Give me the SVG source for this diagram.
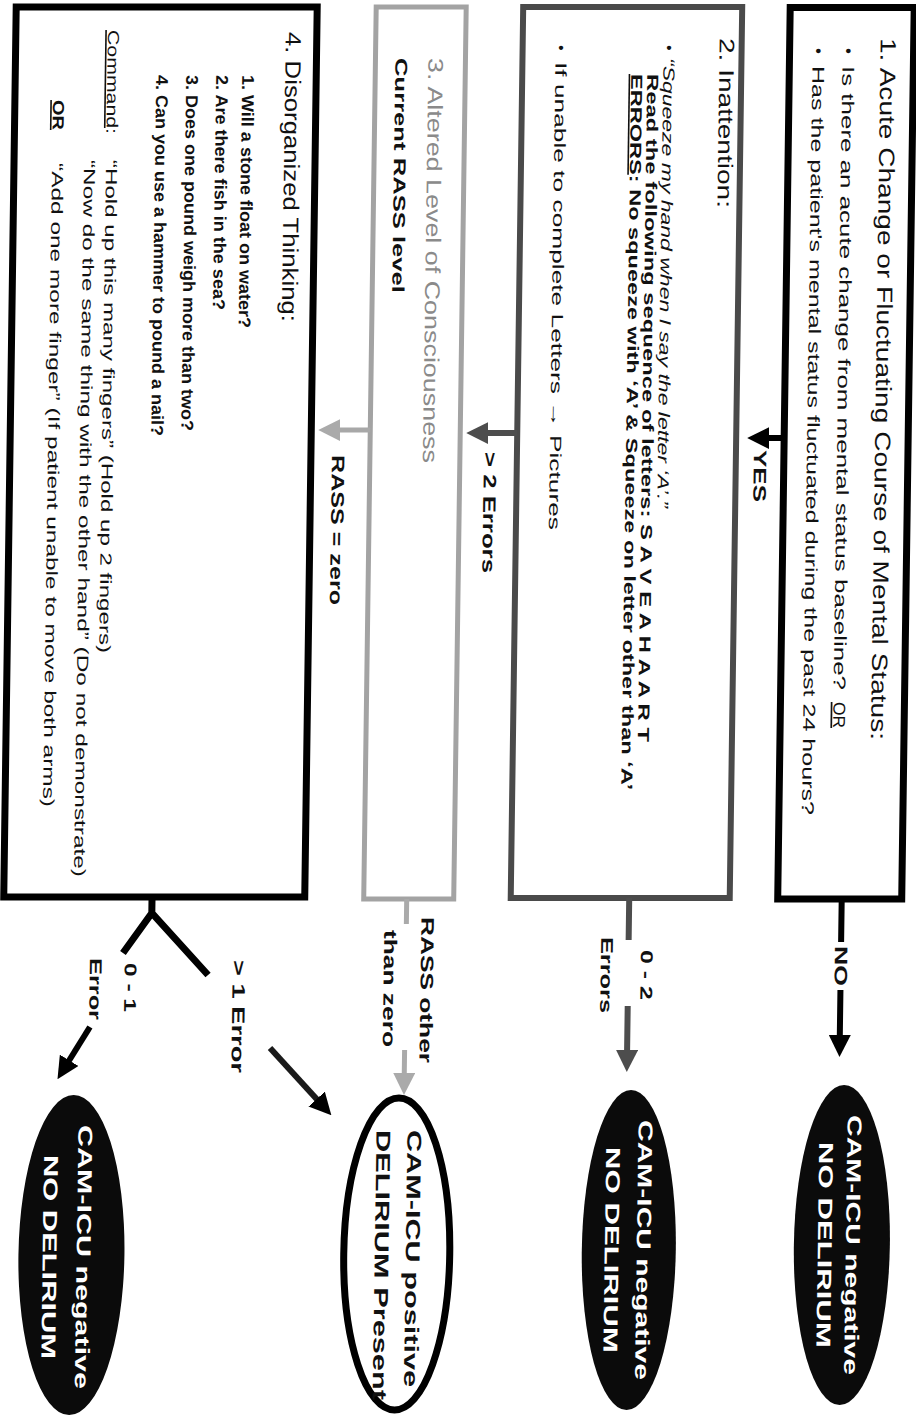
<svg xmlns="http://www.w3.org/2000/svg" width="916" height="1426" viewBox="0 0 916 1426">
<style>
.t{font-family:"Liberation Sans",Arial,Helvetica,sans-serif;fill:#111}
.b{font-weight:bold}
.i{font-style:italic}
.w{fill:#fff}
.box{fill:none}
.u{text-decoration:underline}
</style>
<defs>
<marker id="ah-k" viewBox="0 0 22 22" markerWidth="22" markerHeight="22" markerUnits="userSpaceOnUse" refX="1" refY="11" orient="auto"><path d="M0,0 L22,11 L0,22 z" fill="#000"/></marker>
<marker id="ah-d" viewBox="0 0 22 22" markerWidth="22" markerHeight="22" markerUnits="userSpaceOnUse" refX="1" refY="11" orient="auto"><path d="M0,0 L22,11 L0,22 z" fill="#4d4d4d"/></marker>
<marker id="ah-l" viewBox="0 0 22 22" markerWidth="22" markerHeight="22" markerUnits="userSpaceOnUse" refX="1" refY="11" orient="auto"><path d="M0,0 L22,11 L0,22 z" fill="#aaaaaa"/></marker>
</defs>
<rect width="916" height="1426" fill="#fff"/>
<g transform="matrix(1 0 -0.014 1 6.3 0)">

<g id="node1">
<rect class="box" x="784" y="7.5" width="124" height="891.5" stroke="#000" stroke-width="7"/>
<text class="t" font-size="22" x="875" y="38" transform="rotate(90 875 38)" textLength="702" lengthAdjust="spacingAndGlyphs">1. Acute Change or Fluctuating Course of Mental Status:</text>
<text class="t" font-size="17" x="837" y="48" transform="rotate(90 837 48)">•</text>
<text class="t" font-size="17" x="837" y="66" transform="rotate(90 837 66)" textLength="624" lengthAdjust="spacingAndGlyphs">Is there an acute change from mental status baseline?</text>
<text class="t u" font-size="17" x="837" y="702" transform="rotate(90 837 702)" textLength="26" lengthAdjust="spacingAndGlyphs">OR</text>
<text class="t" font-size="17" x="807" y="48" transform="rotate(90 807 48)">•</text>
<text class="t" font-size="17" x="807" y="66" transform="rotate(90 807 66)" textLength="749" lengthAdjust="spacingAndGlyphs">Has the patient's mental status fluctuated during the past 24 hours?</text>
</g>

<g id="node2">
<rect class="box" x="517" y="7" width="219" height="891" stroke="#4a4a4a" stroke-width="6"/>
<text class="t" font-size="21" fill="#2b2b2b" x="714" y="38" transform="rotate(90 714 38)" textLength="170" lengthAdjust="spacingAndGlyphs">2. Inattention:</text>
<text class="t" font-size="16" x="658" y="45" transform="rotate(90 658 45)">•</text>
<text class="t i" font-size="16" x="658" y="58" transform="rotate(90 658 58)" textLength="450" lengthAdjust="spacingAndGlyphs">“Squeeze my hand when I say the letter ‘A’.”</text>
<text class="t b" font-size="16" x="642" y="74" transform="rotate(90 642 74)" textLength="668" lengthAdjust="spacingAndGlyphs">Read the following sequence of letters: S A V E A H A A R T</text>
<text class="t b" font-size="16" x="626" y="74" transform="rotate(90 626 74)" textLength="716" lengthAdjust="spacingAndGlyphs"><tspan class="u">ERRORS</tspan>: No squeeze with ‘A’ &amp; Squeeze on letter other than ‘A’</text>
<text class="t" font-size="16" x="550" y="45" transform="rotate(90 550 45)">•</text>
<text class="t" font-size="16" x="550" y="62" transform="rotate(90 550 62)" textLength="468" lengthAdjust="spacingAndGlyphs">If unable to complete Letters → Pictures</text>
</g>

<g id="node3">
<rect class="box" x="370" y="7" width="90" height="892" stroke="#a3a3a3" stroke-width="5"/>
<text class="t" font-size="21" style="fill:#8a8a8a" x="423" y="58" transform="rotate(90 423 58)" textLength="405" lengthAdjust="spacingAndGlyphs">3. Altered Level of Consciousness</text>
<text class="t b" font-size="17" x="390" y="58" transform="rotate(90 390 58)" textLength="235" lengthAdjust="spacingAndGlyphs">Current RASS level</text>
</g>

<g id="node4">
<rect class="box" x="10" y="7" width="301" height="890" stroke="#000" stroke-width="7"/>
<text class="t" font-size="22" x="280" y="32" transform="rotate(90 280 32)" textLength="290" lengthAdjust="spacingAndGlyphs">4. Disorganized Thinking:</text>
<text class="t b" font-size="17" x="237" y="75" transform="rotate(90 237 75)" textLength="253" lengthAdjust="spacingAndGlyphs">1. Will a stone float on water?</text>
<text class="t b" font-size="17" x="211" y="75" transform="rotate(90 211 75)" textLength="235" lengthAdjust="spacingAndGlyphs">2. Are there fish in the sea?</text>
<text class="t b" font-size="17" x="181" y="75" transform="rotate(90 181 75)" textLength="356" lengthAdjust="spacingAndGlyphs">3. Does one pound weigh more than two?</text>
<text class="t b" font-size="17" x="151" y="75" transform="rotate(90 151 75)" textLength="361" lengthAdjust="spacingAndGlyphs">4. Can you use a hammer to pound a nail?</text>
<text class="t" font-size="16" x="102" y="30" transform="rotate(90 102 30)" textLength="104" lengthAdjust="spacingAndGlyphs"><tspan class="u">Command</tspan>:</text>
<text class="t" font-size="16" x="102" y="160" transform="rotate(90 102 160)" textLength="493" lengthAdjust="spacingAndGlyphs">“Hold up this many fingers” (Hold up 2 fingers)</text>
<text class="t" font-size="16" x="80" y="160" transform="rotate(90 80 160)" textLength="717" lengthAdjust="spacingAndGlyphs">“Now do the same thing with the other hand” (Do not demonstrate)</text>
<text class="t b u" font-size="16" x="48" y="100" transform="rotate(90 48 100)" textLength="30" lengthAdjust="spacingAndGlyphs">OR</text>
<text class="t" font-size="16" x="48" y="163" transform="rotate(90 48 163)" textLength="644" lengthAdjust="spacingAndGlyphs">“Add one more finger” (If patient unable to move both arms)</text>
</g>

<g id="result1">
<ellipse cx="853" cy="1245" rx="48" ry="160" fill="#0b0b0b"/>
<text class="t b w" font-size="20" x="857" y="1115" transform="rotate(90 857 1115)" textLength="260" lengthAdjust="spacingAndGlyphs">CAM-ICU negative</text>
<text class="t b w" font-size="20" x="829" y="1142" transform="rotate(90 829 1142)" textLength="206" lengthAdjust="spacingAndGlyphs">NO DELIRIUM</text>
</g>

<g id="result2">
<ellipse cx="640" cy="1250" rx="47" ry="160" fill="#0b0b0b"/>
<text class="t b w" font-size="20" x="648" y="1120" transform="rotate(90 648 1120)" textLength="260" lengthAdjust="spacingAndGlyphs">CAM-ICU negative</text>
<text class="t b w" font-size="20" x="616" y="1147" transform="rotate(90 616 1147)" textLength="206" lengthAdjust="spacingAndGlyphs">NO DELIRIUM</text>
</g>

<g id="result3">
<ellipse cx="408" cy="1254" rx="53" ry="156" fill="#fff" stroke="#000" stroke-width="7"/>
<text class="t b" font-size="20" x="417" y="1130" transform="rotate(90 417 1130)" textLength="257" lengthAdjust="spacingAndGlyphs">CAM-ICU positive</text>
<text class="t b" font-size="20" x="386" y="1130" transform="rotate(90 386 1130)" textLength="270" lengthAdjust="spacingAndGlyphs">DELIRIUM Present</text>
</g>

<g id="result4">
<ellipse cx="82.7" cy="1255" rx="53" ry="160" fill="#0b0b0b"/>
<text class="t b w" font-size="20" x="88" y="1125" transform="rotate(90 88 1125)" textLength="264" lengthAdjust="spacingAndGlyphs">CAM-ICU negative</text>
<text class="t b w" font-size="20" x="54" y="1155" transform="rotate(90 54 1155)" textLength="204" lengthAdjust="spacingAndGlyphs">NO DELIRIUM</text>
</g>

<g id="connectors" fill="none">
<path d="M784,438 H768" stroke="#000" stroke-width="6" marker-end="url(#ah-k)"/>
<path d="M517,433 H487" stroke="#4d4d4d" stroke-width="6" marker-end="url(#ah-d)"/>
<path d="M370,430 H339" stroke="#a8a8a8" stroke-width="5" marker-end="url(#ah-l)"/>
<path d="M848,899 V942 M848,990 V1036" stroke="#000" stroke-width="6" marker-end="url(#ah-k)"/>
<path d="M635.5,898 V940 M635.5,1006 V1051" stroke="#4d4d4d" stroke-width="6" marker-end="url(#ah-d)"/>
<path d="M413,899 V924 M413,1050 V1074" stroke="#aaaaaa" stroke-width="5" marker-end="url(#ah-l)"/>
<path d="M158.3,897 V913 M130,953 L158.3,913 L215.4,975" stroke="#000" stroke-width="7"/>
<path d="M98,1027 L77.2,1061.2" stroke="#000" stroke-width="6" marker-end="url(#ah-k)"/>
<path d="M278.4,1048 L326.4,1099.8" stroke="#1a1a1a" stroke-width="6" marker-end="url(#ah-k)"/>
<text class="t b" font-size="18" x="754" y="450" transform="rotate(90 754 450)" textLength="52" lengthAdjust="spacingAndGlyphs">YES</text>
<text class="t b" font-size="18" x="484" y="452" transform="rotate(90 484 452)" textLength="121" lengthAdjust="spacingAndGlyphs">&gt; 2 Errors</text>
<text class="t b" font-size="18" x="332" y="455" transform="rotate(90 332 455)" textLength="150" lengthAdjust="spacingAndGlyphs">RASS = zero</text>
<text class="t b" font-size="18" x="842" y="946" transform="rotate(90 842 946)" textLength="40" lengthAdjust="spacingAndGlyphs">NO</text>
<text class="t b" font-size="17" x="648" y="950" transform="rotate(90 648 950)" textLength="50" lengthAdjust="spacingAndGlyphs">0 - 2</text>
<text class="t b" font-size="17" x="608" y="937" transform="rotate(90 608 937)" textLength="76" lengthAdjust="spacingAndGlyphs">Errors</text>
<text class="t b" font-size="18" x="428" y="917" transform="rotate(90 428 917)" textLength="146" lengthAdjust="spacingAndGlyphs">RASS other</text>
<text class="t b" font-size="18" x="391" y="930" transform="rotate(90 391 930)" textLength="117" lengthAdjust="spacingAndGlyphs">than zero</text>
<text class="t b" font-size="18" x="240" y="960" transform="rotate(90 240 960)" textLength="113" lengthAdjust="spacingAndGlyphs">&gt; 1 Error</text>
<text class="t b" font-size="17" x="132" y="963" transform="rotate(90 132 963)" textLength="49" lengthAdjust="spacingAndGlyphs">0 - 1</text>
<text class="t b" font-size="17" x="97" y="958" transform="rotate(90 97 958)" textLength="62" lengthAdjust="spacingAndGlyphs">Error</text>
</g>

</g>
</svg>
